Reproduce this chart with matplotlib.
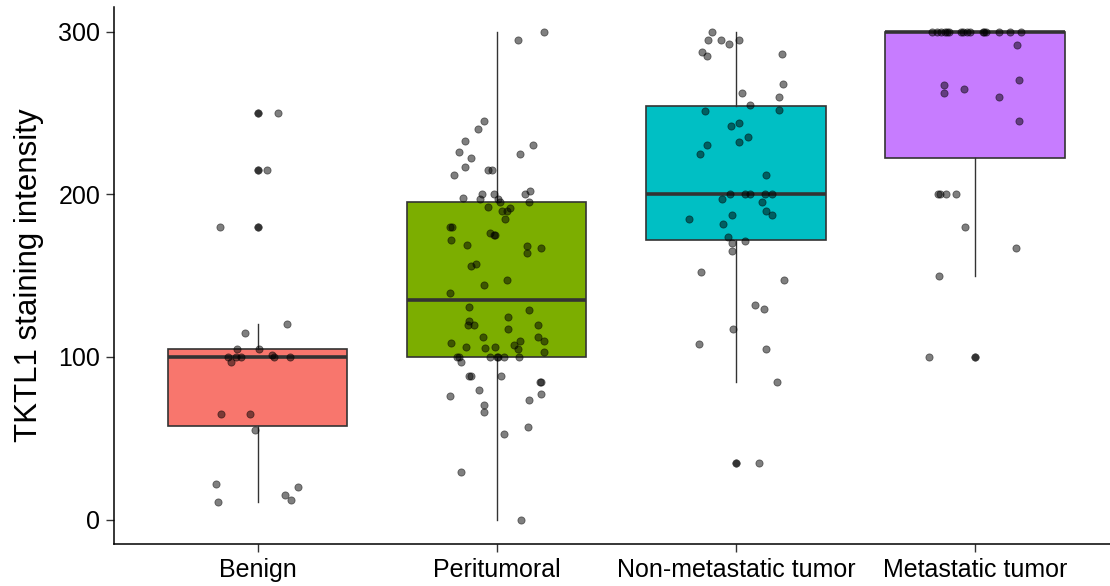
import matplotlib
matplotlib.use("Agg")
import matplotlib.pyplot as plt
import numpy as np

plt.rcParams['font.family'] = ['Liberation Sans', 'DejaVu Sans']

categories = ["Benign", "Peritumoral", "Non-metastatic tumor", "Metastatic tumor"]
colors = ["#F8766D", "#7CAE00", "#00BFC4", "#C77CFF"]

# staining intensity per sample, with the horizontal jitter used for each dot
benign = [250, 215, 180, 120, 115, 105, 105, 101, 100, 100, 100, 100, 100,
          97, 65, 65, 55, 22, 20, 15, 12, 11]
benign_jitter = [0.085, 0.040, -0.159, 0.123, -0.053, -0.085, 0.007, 0.061,
                 -0.125, -0.092, -0.070, 0.069, 0.136, -0.113, -0.152, -0.031,
                 -0.013, -0.173, 0.167, 0.113, 0.141, -0.166]

peritumoral = [300, 295, 245, 240, 233, 230, 226, 225, 222, 217, 215, 215, 212,
               202, 200, 200, 200, 197.5, 197, 197, 195.4, 195, 192, 191.6, 190,
               190, 185, 180, 180, 176, 175, 175, 172, 169, 168, 167, 164, 157,
               156, 147, 144.5, 139.5, 130.5, 129, 124.6, 122.3, 119.7, 119.7,
               119.7, 117, 112.3, 112, 109.6, 109.6, 108.6, 107.4, 106.3, 105.9,
               105.5, 104.7, 103, 100, 100, 100, 100, 100, 100, 100, 97, 88.3,
               88.3, 88.3, 84.8, 84.8, 79.7, 77, 76.2, 73.3, 70.3, 66.2, 57.2,
               52.7, 29.5, 0]
peritumoral_jitter = [0.198, 0.089, -0.054, -0.077, -0.134, 0.151, -0.158, 0.097,
                      -0.110, -0.133, -0.035, -0.022, -0.177, 0.137, 0.117, -0.063,
                      -0.013, -0.143, -0.071, 0.005, 0.013, 0.135, -0.036, 0.056,
                      0.020, 0.043, 0.035, -0.197, -0.188, -0.028, -0.013, -0.008,
                      -0.192, -0.123, 0.128, 0.183, 0.127, -0.088, -0.107, 0.043,
                      -0.053, -0.197, -0.116, 0.136, 0.047, -0.116, -0.121, -0.095,
                      0.174, 0.045, -0.059, 0.172, 0.095, 0.197, -0.192, 0.070,
                      -0.130, -0.007, -0.050, 0.088, 0.197, -0.165, -0.159, -0.029,
                      -0.001, 0.003, 0.032, 0.092, -0.148, -0.116, -0.109, 0.017,
                      0.181, 0.186, -0.075, 0.185, -0.195, 0.134, -0.054, -0.054,
                      0.131, 0.029, -0.149, 0.100]

non_metastatic = [300, 295, 295, 295, 292.4, 287.5, 286, 285, 268, 262, 260, 255,
                  252, 251, 243.6, 242, 235, 232, 230, 225, 212, 200, 200, 200,
                  200, 200, 197, 195, 190, 187, 187, 185, 182, 173.5, 171, 170,
                  165, 152, 147, 132, 129.5, 117, 108, 105, 84.5, 35]
non_metastatic_jitter = [-0.102, -0.116, -0.064, 0.014, -0.028, -0.141, 0.194,
                         -0.121, 0.195, 0.024, 0.180, 0.059, 0.181, -0.131, 0.014,
                         -0.022, 0.049, 0.013, -0.123, -0.151, 0.127, -0.025,
                         0.039, 0.060, 0.120, 0.152, -0.060, 0.109, 0.124, 0.149,
                         -0.015, -0.195, -0.053, -0.035, 0.038, -0.017, -0.015,
                         -0.146, 0.199, 0.081, 0.118, -0.011, -0.155, 0.127,
                         0.171, 0.096]

metastatic = [300, 300, 300, 300, 300, 300, 300, 300, 300, 300, 300, 300, 300,
              300, 300, 300, 292, 270, 267, 265, 262, 260, 245, 200, 200, 200,
              200, 180, 167, 150, 100]
metastatic_jitter = [-0.179, -0.160, -0.143, -0.125, -0.118, -0.107, -0.060,
                     -0.049, -0.035, -0.021, 0.032, 0.039, 0.045, 0.102, 0.144,
                     0.191, 0.174, 0.185, -0.128, -0.047, -0.131, 0.100, 0.183,
                     -0.154, -0.145, -0.120, -0.081, -0.041, 0.173, -0.149,
                     -0.191]

groups = [benign, peritumoral, non_metastatic, metastatic]
jitters = [benign_jitter, peritumoral_jitter, non_metastatic_jitter, metastatic_jitter]
y_ticks = [0, 100, 200, 300]

fig = plt.figure(figsize=(11.10, 5.86), dpi=100)
ax = fig.add_axes([0.1029, 0.0717, 0.9048, 0.9160])

positions = np.arange(1, len(categories) + 1)
box_edge = "#333333"
bp = ax.boxplot(groups, positions=positions, widths=0.75, whis=1.5,
                patch_artist=True, showcaps=False, zorder=2,
                boxprops=dict(edgecolor=box_edge, linewidth=1.2),
                whiskerprops=dict(color=box_edge, linewidth=1.0),
                medianprops=dict(color=box_edge, linewidth=2.6, solid_capstyle='butt'),
                flierprops=dict(marker='o', markersize=5.4, markerfacecolor=box_edge,
                                markeredgecolor=box_edge, markeredgewidth=0.4))
for patch, c in zip(bp['boxes'], colors):
    patch.set_facecolor(c)

for pos, vals, jit in zip(positions, groups, jitters):
    ax.scatter(pos + np.asarray(jit), vals, s=27, facecolor=(0, 0, 0, 0.5),
               edgecolor=(0, 0, 0, 0.5), linewidths=0.6, zorder=3)

ax.set_xlim(0.4, 4.6)
ax.set_ylim(-15, 315)
ax.set_xticks(positions)
ax.set_xticklabels(categories, fontsize=18, color="black")
ax.set_yticks(y_ticks)
ax.set_yticklabels([str(t) for t in y_ticks], fontsize=18, color="black")
ax.tick_params(axis='both', length=6, width=1.0, color="#333333", pad=4)
ax.set_ylabel("TKTL1 staining intensity", fontsize=22.5, labelpad=10)

for side in ("top", "right"):
    ax.spines[side].set_visible(False)
for side in ("left", "bottom"):
    ax.spines[side].set_linewidth(1.1)
    ax.spines[side].set_color("black")

fig.savefig("out.png", dpi=100)
